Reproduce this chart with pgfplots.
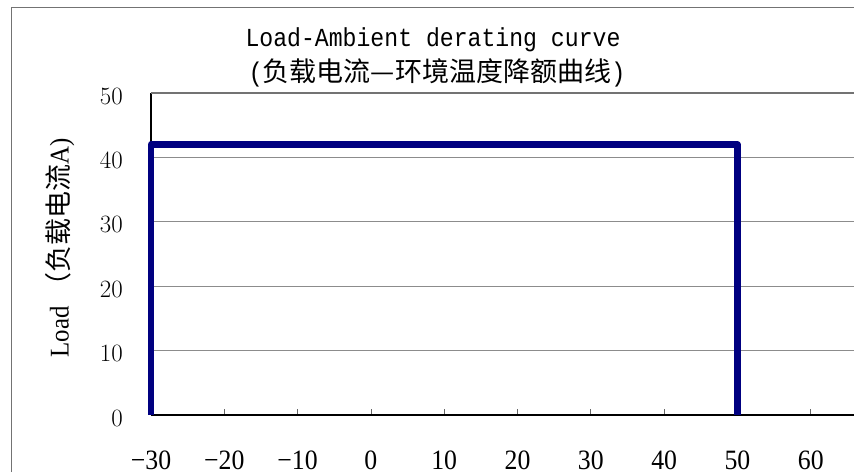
\documentclass[border=0pt]{standalone}
\usepackage{fontspec}
\setmainfont{Liberation Serif}
\newfontfamily\cjk{Noto Sans CJK SC}
\newfontfamily\mono[FakeStretch=0.89]{Liberation Mono}
\newfontfamily\numfont[FakeStretch=0.92]{Liberation Serif}
\usepackage{pgfplots}
\pgfplotsset{compat=1.18}
\definecolor{navyline}{RGB}{0,0,128}
\begin{document}
\begin{tikzpicture}
\path[use as bounding box] (0pt,0pt) rectangle (854pt,472pt);
% chart area border (cut off at right and bottom)
\draw[black!55, line width=1.2pt] (11.5pt,0pt) -- (11.5pt,464.5pt) -- (854pt,464.5pt);
% title
\node[anchor=base, inner sep=0pt] at (433pt,425pt) {\mono\fontsize{26}{30}\selectfont Load-Ambient derating curve};
\node[anchor=base, inner sep=0pt] at (437pt,390pt) {\fontsize{27}{30}\selectfont{\mono(}{\cjk 负载电流—环境温度降额曲线}{\mono)}};
\begin{axis}[
    at={(151pt,57pt)}, anchor=south west,
    scale only axis,
    width=703pt, height=322pt,
    xmin=-30, xmax=65.9,
    ymin=0, ymax=50,
    clip=false,
    axis x line*=bottom,
    axis y line*=left,
    axis line style={black, line width=1.2pt},
    xtick={-30,-20,-10,0,10,20,30,40,50,60},
    xticklabels={−30,−20,−10,0,10,20,30,40,50,60},
    ytick={0,10,20,30,40},
    extra y ticks={50},
    extra tick style={grid style={black!55, line width=1.6pt}},
    ymajorgrids,
    grid style={black!45, line width=0.8pt},
    tick align=inside,
    major tick length=6pt,
    xtick style={black!60, line width=0.8pt},
    ytick style={draw=none},
    tick label style={inner sep=0pt, font=\numfont\fontsize{28}{32}\selectfont},
    xticklabel style={anchor=base, yshift=-54pt},
    yticklabel style={anchor=base east, xshift=-28pt, yshift=-11pt},
    ylabel={{\numfont Load} {\cjk\fontsize{27}{30}\selectfont （负载电流}{\numfont A)}},
    ylabel style={at={(axis description cs:-0.1294,0.519)}, anchor=center, inner sep=0pt, font=\fontsize{27}{30}\selectfont},
]
\addplot[navyline, line width=6.5pt, line join=round] coordinates {
    (-30,0) (-30,42) (50,42) (50,0)
};
\end{axis}
\end{tikzpicture}
\end{document}
